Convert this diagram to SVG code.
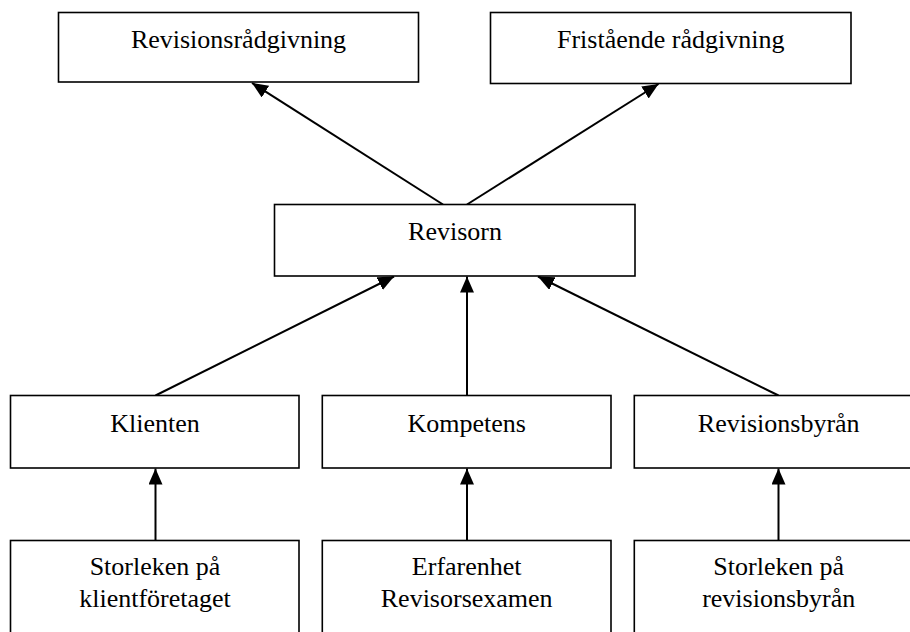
<svg xmlns="http://www.w3.org/2000/svg" width="910" height="632" viewBox="0 0 910 632">
<style>
.box{fill:#fff;stroke:#000;stroke-width:1.6}
.lbl{font-family:"Liberation Serif","Times New Roman",serif;font-size:26px;fill:#000;text-anchor:middle}
.con{stroke:#000;stroke-width:2;fill:none;marker-end:url(#ah)}
</style>
<defs>
<marker id="ah" markerUnits="userSpaceOnUse" markerWidth="16" markerHeight="14" refX="16" refY="7" orient="auto" viewBox="0 0 16 14">
<path d="M0,0 L16,7 L0,14 z" fill="#000"/>
</marker>
</defs>
<g id="connectors">
<line class="con" x1="443" y1="204.5" x2="252" y2="83"/>
<line class="con" x1="467" y1="204.5" x2="658.5" y2="84"/>
<line class="con" x1="155.5" y1="395.5" x2="394" y2="276.5"/>
<line class="con" x1="467" y1="395.5" x2="467" y2="276.5"/>
<line class="con" x1="778.5" y1="395.5" x2="538" y2="276.5"/>
<line class="con" x1="155.5" y1="540.5" x2="155.5" y2="468.5"/>
<line class="con" x1="467" y1="540.5" x2="467" y2="468.5"/>
<line class="con" x1="778.5" y1="540.5" x2="778.5" y2="468.5"/>
</g>
<g id="revisionsradgivning">
<rect class="box" x="58.5" y="12.5" width="360" height="69.5"/>
<text class="lbl" x="238.5" y="47.5">Revisionsrådgivning</text>
</g>
<g id="fristaende">
<rect class="box" x="490.5" y="12.5" width="360.5" height="71"/>
<text class="lbl" x="670.7" y="48">Fristående rådgivning</text>
</g>
<g id="revisorn">
<rect class="box" x="274.5" y="204.5" width="360.5" height="71.5"/>
<text class="lbl" x="455" y="240">Revisorn</text>
</g>
<g id="klienten">
<rect class="box" x="10.5" y="395.5" width="288.5" height="72.5"/>
<text class="lbl" x="155" y="431.7">Klienten</text>
</g>
<g id="kompetens">
<rect class="box" x="322.3" y="395.5" width="288.7" height="72.5"/>
<text class="lbl" x="466.7" y="431.7">Kompetens</text>
</g>
<g id="revisionsbyran">
<rect class="box" x="634.3" y="395.5" width="288.7" height="72.5"/>
<text class="lbl" x="778.7" y="431.7">Revisionsbyrån</text>
</g>
<g id="storlek-klient">
<rect class="box" x="10.5" y="540.5" width="288.5" height="110"/>
<text class="lbl" x="155" y="575">Storleken på</text>
<text class="lbl" x="155" y="606.5">klientföretaget</text>
</g>
<g id="erfarenhet">
<rect class="box" x="322.3" y="540.5" width="288.7" height="110"/>
<text class="lbl" x="466.7" y="575">Erfarenhet</text>
<text class="lbl" x="466.7" y="606.5">Revisorsexamen</text>
</g>
<g id="storlek-byra">
<rect class="box" x="634.3" y="540.5" width="288.7" height="110"/>
<text class="lbl" x="778.7" y="575">Storleken på</text>
<text class="lbl" x="778.7" y="606.5">revisionsbyrån</text>
</g>
</svg>
